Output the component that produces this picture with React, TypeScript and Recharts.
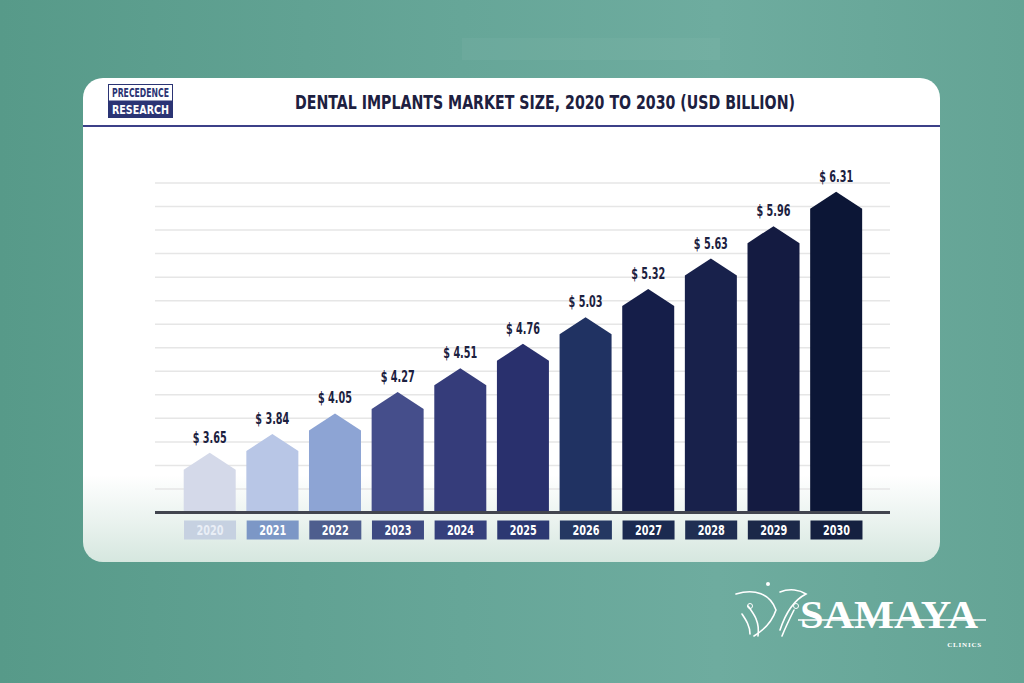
import React from 'react';
import { BarChart, Bar, XAxis, YAxis, CartesianGrid, Cell, LabelList } from 'recharts';

// market size, USD billion
const YEARS = ['2020', '2021', '2022', '2023', '2024', '2025', '2026', '2027', '2028', '2029', '2030'];
const MARKET_SIZE = [3.65, 3.84, 4.05, 4.27, 4.51, 4.76, 5.03, 5.32, 5.63, 5.96, 6.31];
const Y_DOMAIN = [3.04, 6.4];
const GRID_STEP = 0.12;

const BAR_COLORS = ['#d4d9e9', '#b8c6e6', '#8da4d4', '#454e8b', '#353c7a', '#29306d', '#203262', '#151e49', '#18214b', '#141b41', '#0c1636'];
const TICK_BOX = ['#c6d1e1', '#7c97c6', '#4e5e8e', '#3e4a82', '#35407c', '#2c3872', '#253862', '#1b2a50', '#1f2e52', '#1b2848', '#152040'];
const TICK_TEXT = ['#e9eef6', '#fff', '#fff', '#fff', '#fff', '#fff', '#fff', '#fff', '#fff', '#fff', '#fff'];

const data = YEARS.map((year, i) => ({ year, value: MARKET_SIZE[i] }));
const gridTicks = Array.from({ length: 29 }, (_, i) => +(Y_DOMAIN[0] + i * GRID_STEP).toFixed(2));

const condensed = '"DejaVu Sans Condensed", "DejaVu Sans", sans-serif';

const HouseBar = (props: any) => {
  const { x, y, width, height, fill } = props;
  const roof = 17;
  const pts = [
    [x, y + roof],
    [x + width / 2, y],
    [x + width, y + roof],
    [x + width, y + height],
    [x, y + height],
  ]
    .map((p) => p.join(','))
    .join(' ');
  return <polygon points={pts} fill={fill} />;
};

const YearTick = (props: any) => {
  const { x, y, payload, index } = props;
  return (
    <g>
      <rect x={x - 26} y={y} width={52} height={19} fill={TICK_BOX[index]} />
      <text
        x={x}
        y={y + 14.5}
        textAnchor='middle'
        fill={TICK_TEXT[index]}
        fontFamily={condensed}
        fontStretch='condensed'
        fontWeight={700}
        fontSize={14}
        textLength={27}
        lengthAdjust='spacingAndGlyphs'
      >
        {payload.value}
      </text>
    </g>
  );
};

const ValueLabel = (props: any) => {
  const { x, y, width, value } = props;
  return (
    <text
      x={x + width / 2}
      y={y - 10}
      textAnchor='middle'
      fill='#1c2140'
      fontFamily={condensed}
      fontStretch='condensed'
      fontWeight={700}
      fontSize={15}
      textLength={34}
      lengthAdjust='spacingAndGlyphs'
    >
      {`$ ${value.toFixed(2)}`}
    </text>
  );
};

const SamayaLogo = () => (
  <svg width={290} height={85} style={{ position: 'absolute', left: 720, top: 570 }}>
    <g fill='none' stroke='#fff' strokeWidth={1.6} strokeLinecap='round'>
      <path d='M16 24 C35 18 50 24 56 40 C52 52 44 60 34 66' />
      <path d='M60 22 C70 18 80 20 86 24 C74 30 66 42 60 60' />
      <path d='M28 36 C34 44 40 52 38 66' />
      <path d='M74 40 C70 48 66 56 62 66' />
      <path d='M22 44 C26 50 30 56 30 64' />
    </g>
    <circle cx={48} cy={14} r={2} fill='#fff' />
    <circle cx={30} cy={36} r={2.5} fill='none' stroke='#fff' />
    <circle cx={76} cy={36} r={2.5} fill='none' stroke='#fff' />
    <text
      x={80}
      y={58}
      fill='#fff'
      fontFamily='"Liberation Serif", "DejaVu Serif", serif'
      fontWeight={700}
      fontSize={40}
      textLength={178}
      lengthAdjust='spacingAndGlyphs'
    >
      SAMAYA
    </text>
    <line x1={78} y1={50} x2={266} y2={50} stroke='#fff' strokeWidth={1.4} />
    <text
      x={262}
      y={77}
      textAnchor='end'
      fill='#fff'
      fontFamily='"Liberation Serif", serif'
      fontWeight={700}
      fontSize={7}
      letterSpacing={0.8}
    >
      CLINICS
    </text>
  </svg>
);

const App = () => {
  return (
    <div
      style={{
        position: 'absolute',
        left: 0,
        top: 0,
        width: 1024,
        height: 683,
        overflow: 'hidden',
        background: 'linear-gradient(90deg, #579a89 0%, #66a698 45%, #6eac9f 70%, #64a495 100%)',
      }}
    >
      {/* faint ceiling panel */}
      <div
        style={{
          position: 'absolute',
          left: 462,
          top: 38,
          width: 258,
          height: 22,
          background: 'rgba(255,255,255,0.04)',
        }}
      />

      <div
        style={{
          position: 'absolute',
          left: 83,
          top: 78,
          width: 857,
          height: 484,
          borderRadius: 20,
          overflow: 'hidden',
          background: 'linear-gradient(180deg, #ffffff 0%, #ffffff 82%, #e9f2ee 92%, #d6e7df 100%)',
        }}
      >
        <svg width={857} height={50} style={{ position: 'absolute', left: 0, top: 0 }}>
          {/* logo */}
          <rect x={25.5} y={6.5} width={64} height={33} fill='#fff' stroke='#2b3474' />
          <rect x={25.5} y={22.5} width={64} height={17} fill='#2b3474' />
          <text
            x={57.5}
            y={19}
            textAnchor='middle'
            fill='#2b3474'
            fontFamily={condensed}
            fontStretch='condensed'
            fontWeight={700}
            fontSize={12}
            textLength={57}
            lengthAdjust='spacingAndGlyphs'
          >
            PRECEDENCE
          </text>
          <text
            x={57.5}
            y={36}
            textAnchor='middle'
            fill='#fff'
            fontFamily={condensed}
            fontStretch='condensed'
            fontWeight={700}
            fontSize={12}
            textLength={57}
            lengthAdjust='spacingAndGlyphs'
          >
            RESEARCH
          </text>

          <text
            x={462}
            y={31}
            textAnchor='middle'
            fill='#1d2040'
            fontFamily={condensed}
            fontStretch='condensed'
            fontWeight={700}
            fontSize={19.5}
            textLength={500}
            lengthAdjust='spacingAndGlyphs'
          >
            DENTAL IMPLANTS MARKET SIZE, 2020 TO 2030 (USD BILLION)
          </text>

          <rect x={0} y={47} width={857} height={2} fill='#3c4088' />
        </svg>
      </div>

      <div style={{ position: 'absolute', left: 100, top: 140 }}>
        <BarChart
          width={800}
          height={420}
          data={data}
          margin={{ top: 43, right: 10, left: 55, bottom: 12.5 }}
          barSize={52}
        >
          <CartesianGrid vertical={false} stroke='#e6e6e6' strokeWidth={1.5} />
          <XAxis
            dataKey='year'
            height={35}
            padding={{ left: 23.7, right: 22.2 }}
            axisLine={{ stroke: '#42454f', strokeWidth: 3 }}
            tickLine={false}
            tickSize={8}
            tickMargin={0}
            tick={<YearTick />}
            interval={0}
          />
          <YAxis hide domain={Y_DOMAIN} ticks={gridTicks} allowDataOverflow />
          <Bar dataKey='value' isAnimationActive={false} shape={<HouseBar />}>
            {data.map((d, i) => (
              <Cell key={d.year} fill={BAR_COLORS[i]} />
            ))}
            <LabelList dataKey='value' content={<ValueLabel />} />
          </Bar>
        </BarChart>
      </div>

      <SamayaLogo />
    </div>
  );
};

export default App;
